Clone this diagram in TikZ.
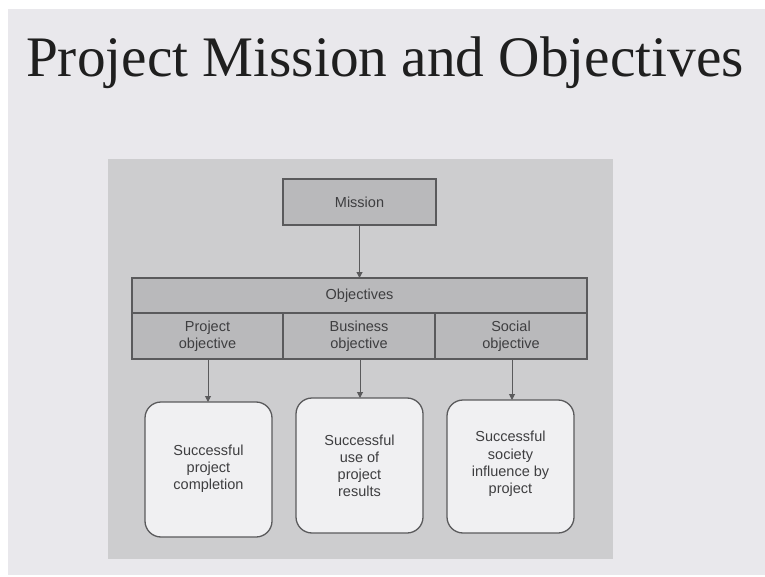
\documentclass[tikz,border=0pt]{standalone}
\usepackage{fontspec}
\setmainfont{Liberation Serif}
\newfontfamily\diagfont{Liberation Sans}
\usetikzlibrary{arrows.meta}
\definecolor{slidebg}{HTML}{E9E8EC}
\definecolor{panelbg}{HTML}{CDCDCF}
\definecolor{headbg}{HTML}{B9B9BB}
\definecolor{resultbg}{HTML}{F0F0F2}
\definecolor{edgecol}{HTML}{5A5A5C}
\definecolor{textcol}{HTML}{3E3E40}
\tikzset{
  x=1pt, y=-1pt,
  cell/.style={draw=edgecol, line width=1.3pt, fill=headbg},
  resultbox/.style={draw=edgecol, line width=1.3pt, fill=resultbg, rounded corners=16pt},
  lbl/.style={font=\diagfont\fontsize{14.5}{17.2}\selectfont, text=textcol, align=center},
  link/.style={draw=edgecol, line width=1pt, -{Triangle[length=6pt,width=6pt]}}
}
\begin{document}
\begin{tikzpicture}
\useasboundingbox (0,0) rectangle (765,577);
\fill[white] (0,0) rectangle (765,577);
\fill[slidebg] (8,9) rectangle (765,575);

% title
\node[anchor=base, font=\fontsize{57.3}{64}\selectfont, text=black!88] (title) at (385,77) {Project Mission and Objectives};

% grey panel behind the chart
\fill[panelbg] (108,159) rectangle (613,559);

% mission box
\draw[cell] (283,179) rectangle (436,225);
\node[lbl] (mission) at (359.5,202) {Mission};

% objectives band with three columns
\draw[cell] (132,278) rectangle (587,313);
\draw[cell] (132,313) rectangle (283,359);
\draw[cell] (283,313) rectangle (435,359);
\draw[cell] (435,313) rectangle (587,359);
\node[lbl] (objectives) at (359.5,295.5) {Objectives};
\node[lbl] (pobj) at (207.5,336) {Project\\objective};
\node[lbl] (bobj) at (359,336) {Business\\objective};
\node[lbl] (sobj) at (511,336) {Social\\objective};

\coordinate (mbot) at (359.5,225);
\coordinate (otop) at (359.5,278);
\coordinate (pb) at (208,359);
\coordinate (bb) at (360,359);
\coordinate (sb) at (512,359);

% result boxes
\draw[resultbox] (145,402) rectangle (272,537);
\draw[resultbox] (296,398) rectangle (423,533);
\draw[resultbox] (447,400) rectangle (574,533);
\node[lbl] (r1) at (208.5,469) {Successful\\project\\completion};
\node[lbl] (r2) at (359.5,466) {Successful\\use of\\project\\results};
\node[lbl] (r3) at (510.5,464) {Successful\\society\\influence by\\project};
\coordinate (r1t) at (208,402);
\coordinate (r2t) at (360,398);
\coordinate (r3t) at (512,400);

% connectors
\draw[link] (mbot) -- (otop);
\draw[link] (pb) -- (r1t);
\draw[link] (bb) -- (r2t);
\draw[link] (sb) -- (r3t);
\end{tikzpicture}
\end{document}
